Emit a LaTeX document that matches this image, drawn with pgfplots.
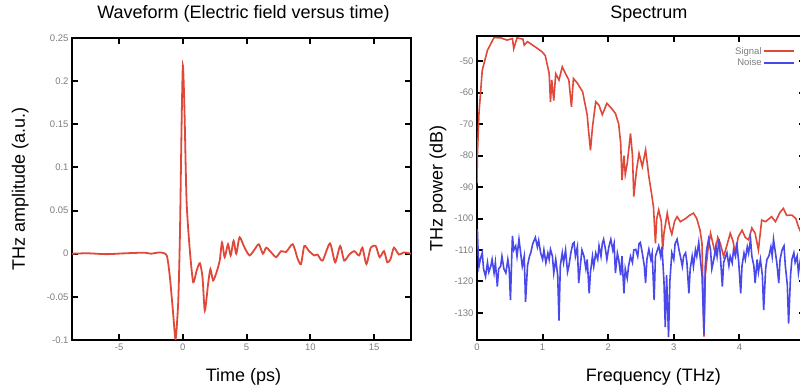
\documentclass[border=0pt]{standalone}
\usepackage{fontspec}
\setmainfont{Liberation Sans}
\usepackage{pgfplots}
\pgfplotsset{compat=1.18}
\definecolor{wred}{RGB}{224,72,58}
\definecolor{nblue}{RGB}{72,72,235}
\definecolor{tickgray}{RGB}{125,125,125}
\begin{document}
\begin{tikzpicture}[x=1bp,y=1bp]
\pgfplotsset{
  gp/.style={
    scale only axis,
    anchor=south west,
    axis line style={line width=2bp},
    major tick length=6bp,
    every tick/.style={black,line width=2bp},
    tick label style={font=\fontsize{9.5bp}{11bp}\selectfont, text=tickgray},
    /pgf/number format/assume math mode=true,
    label style={font=\fontsize{18bp}{20bp}\selectfont},
    title style={font=\fontsize{18bp}{20bp}\selectfont, anchor=center},
    clip=true,
  }
}
\begin{axis}[gp, at={(72bp,49bp)}, width=339bp, height=302bp,
  xmin=-8.7, xmax=17.9, ymin=-0.1, ymax=0.25,
  xtick={-5,0,5,10,15}, ytick={-0.1,-0.05,0,0.05,0.1,0.15,0.2,0.25},
  yticklabel style={/pgf/number format/.cd, fixed, precision=2},
  title={Waveform (Electric field versus time)},
  title style={at={(axis description cs:0.506,1.06)}},
  xlabel={Time (ps)}, ylabel={THz amplitude (a.u.)},
  xlabel style={at={(axis description cs:0.506,-0.1225)}, anchor=center},
  ylabel style={at={(axis description cs:-0.153,0.5)}, anchor=center},
]
\addplot[wred, line width=1.8bp, smooth, tension=0.4] coordinates {
(-8.7,0) (-7.5,0.0005) (-6,-0.0005) (-4.5,0.0005) (-3,0.0012) (-2.5,0) (-1.8,0.0015)
(-1.27,-0.002) (-1.02,-0.027) (-0.76,-0.070) (-0.57,-0.099) (-0.36,-0.054) (-0.23,0.023)
(-0.1,0.15) (0,0.218) (0.12,0.17) (0.29,0.061) (0.55,0.003) (0.81,-0.033) (1.07,-0.020)
(1.33,-0.011) (1.54,-0.027) (1.72,-0.066) (1.98,-0.035) (2.16,-0.018) (2.37,-0.031)
(2.63,-0.022) (2.89,-0.008) (3.07,0.013) (3.28,-0.004) (3.54,0.011) (3.75,-0.002)
(3.98,0.015) (4.19,0.0) (4.45,0.019) (4.84,0.007) (5.23,-0.002) (5.63,0.005) (5.96,0.011)
(6.28,0.0) (6.54,0.007) (6.93,0.0015) (7.32,-0.004) (7.71,0.003) (8.1,0.002) (8.62,0.011)
(9.01,-0.006) (9.27,-0.012) (9.53,0.009) (9.9,0.003) (10.31,-0.002) (10.57,-0.001)
(10.96,-0.008) (11.54,0.012) (11.95,-0.010) (12.34,0.009) (12.66,-0.008) (13.05,-0.001)
(13.44,0.003) (13.83,-0.002) (14.09,0.007) (14.4,-0.012) (14.74,0.007) (15.13,0.009)
(15.44,-0.004) (15.78,0.003) (16.04,-0.010) (16.3,-0.006) (16.56,0.007) (16.95,-0.001)
(17.34,0.0015) (17.9,0.0)
};
\end{axis}
\begin{axis}[gp, at={(477bp,49bp)}, width=328bp, height=304bp,
  xmin=0, xmax=5, ymin=-138.6, ymax=-42,
  xtick={0,1,2,3,4,5}, xticklabels={0,1,2,3,4,{}},
  ytick={-130,-120,-110,-100,-90,-80,-70,-60,-50},
  title={Spectrum},
  title style={at={(axis description cs:0.524,1.053)}},
  xlabel={Frequency (THz)}, ylabel={THz power (dB)},
  xlabel style={at={(axis description cs:0.538,-0.122)}, anchor=center},
  ylabel style={at={(axis description cs:-0.119,0.5)}, anchor=center},
  legend style={at={(axis description cs:0.969,0.967)}, anchor=north east,
    draw=none, fill=none, inner sep=0pt, row sep=1bp,
    nodes={inner sep=1bp},
    font=\fontsize{9.5bp}{11bp}\selectfont},
  legend cell align=right, legend plot pos=right,
  legend image code/.code={\draw[#1, line width=2bp] (0bp,0bp) -- (30bp,0bp);},
]
\addplot[color=wred, line width=1.6bp] coordinates {
(0,-88.8) (0.005,-80.4) (0.03,-66.6) (0.08,-52.9) (0.16,-46.5) (0.26,-42.5) (0.36,-42.6)
(0.46,-43.3) (0.54,-42.8) (0.56,-46) (0.61,-42.6) (0.7,-43) (0.72,-44.9) (0.77,-43.8)
(0.89,-45.5) (0.99,-47) (1.04,-48.2) (1.10,-53.9) (1.12,-63) (1.14,-56) (1.17,-62.5)
(1.20,-54) (1.25,-56) (1.30,-51.8) (1.35,-54) (1.40,-56) (1.44,-64.5) (1.47,-55.5)
(1.53,-57) (1.61,-59.7) (1.68,-67.1) (1.70,-72) (1.73,-78.3) (1.76,-71) (1.81,-62.9)
(1.86,-64) (1.91,-67) (1.98,-63.4) (2.05,-65) (2.11,-66.6) (2.16,-70) (2.19,-76)
(2.21,-87.8) (2.24,-80) (2.26,-86) (2.29,-82.5) (2.34,-73) (2.37,-80) (2.39,-93)
(2.43,-85) (2.47,-79.3) (2.52,-83.5) (2.57,-78.2) (2.62,-86.7) (2.66,-92) (2.69,-96.3)
(2.72,-107.9) (2.74,-100) (2.77,-97.3) (2.81,-101) (2.83,-110) (2.85,-104.7) (2.90,-98.3)
(2.94,-103) (2.97,-105) (3.01,-101) (3.05,-99.4) (3.1,-101) (3.18,-100) (3.24,-99)
(3.30,-98.3) (3.35,-100) (3.40,-103.7) (3.43,-108) (3.46,-137.5) (3.48,-118) (3.52,-110)
(3.56,-104.7) (3.63,-111) (3.67,-106) (3.71,-108) (3.76,-112) (3.81,-108.5) (3.86,-104.7)
(3.90,-107) (3.94,-111) (3.98,-106) (4.04,-103.7) (4.09,-106) (4.14,-106.8) (4.19,-103)
(4.24,-104.7) (4.29,-110) (4.34,-100.5) (4.40,-101) (4.49,-99.4) (4.55,-101) (4.62,-98)
(4.67,-96.8) (4.72,-99) (4.80,-98.9) (4.86,-100) (4.90,-102.6) (4.95,-105) (5.0,-104)
};
\addlegendentry{\textcolor{tickgray}{Signal}}
\addplot[color=nblue, line width=1.6bp] coordinates {
(0.005,-103.3) (0.02,-112) (0.03,-115.2) (0.05,-113) (0.08,-110.9) (0.10,-116) (0.13,-118.4)
(0.16,-114) (0.18,-117) (0.21,-115.2) (0.23,-113) (0.26,-117.3) (0.28,-114) (0.31,-121.6)
(0.33,-116) (0.36,-115.2) (0.38,-112) (0.41,-116) (0.44,-117.3) (0.47,-113) (0.49,-116)
(0.51,-125.9) (0.53,-112) (0.54,-105.5) (0.56,-110) (0.59,-108.7) (0.61,-112) (0.64,-106.6)
(0.66,-110) (0.69,-115.2) (0.72,-112) (0.74,-126.5) (0.77,-115) (0.80,-112) (0.82,-110.9)
(0.85,-108) (0.89,-106.0) (0.92,-109) (0.94,-107) (0.97,-110.9) (1.00,-113) (1.02,-110)
(1.05,-114.1) (1.08,-111) (1.10,-113) (1.12,-109.8) (1.15,-112) (1.17,-117.3) (1.20,-113)
(1.23,-118) (1.25,-132.4) (1.27,-115) (1.30,-110.9) (1.32,-114) (1.35,-110) (1.38,-117)
(1.40,-115.2) (1.43,-111) (1.46,-108) (1.48,-107.6) (1.50,-112) (1.53,-109) (1.55,-120.5)
(1.58,-114) (1.60,-110) (1.63,-111.9) (1.66,-116) (1.68,-113) (1.71,-123.8) (1.73,-117)
(1.76,-112) (1.78,-115.2) (1.81,-111) (1.84,-113) (1.86,-108.7) (1.89,-112) (1.91,-108)
(1.93,-106.6) (1.96,-110) (1.98,-113.0) (2.01,-109) (2.04,-106.6) (2.07,-110) (2.09,-108)
(2.11,-117.3) (2.14,-111) (2.16,-113.0) (2.19,-118) (2.21,-112) (2.24,-123.8) (2.26,-116)
(2.29,-119) (2.31,-115.2) (2.34,-112) (2.37,-114) (2.39,-110) (2.42,-109.8) (2.45,-112)
(2.47,-108) (2.49,-107.6) (2.52,-111) (2.55,-115) (2.57,-120.5) (2.59,-113) (2.62,-109.8)
(2.65,-113) (2.67,-111) (2.70,-125.9) (2.72,-112) (2.75,-110) (2.77,-108.7) (2.80,-112)
(2.82,-109) (2.85,-120) (2.87,-134.5) (2.89,-118) (2.92,-137.7) (2.94,-120) (2.97,-110.9)
(3.00,-113) (3.02,-108) (3.05,-106.6) (3.08,-110) (3.10,-112) (3.13,-115.2) (3.15,-112)
(3.18,-110.9) (3.20,-114) (3.23,-123.8) (3.25,-116) (3.28,-112) (3.30,-115.2) (3.33,-110)
(3.35,-112) (3.38,-107.6) (3.40,-112) (3.43,-118) (3.46,-136.7) (3.48,-115) (3.50,-110)
(3.53,-106.6) (3.56,-110) (3.58,-116) (3.61,-113.0) (3.64,-109) (3.66,-112) (3.69,-106.6)
(3.71,-112) (3.74,-121.6) (3.76,-114) (3.79,-112) (3.81,-110.9) (3.84,-115) (3.86,-112)
(3.89,-114.1) (3.91,-110) (3.94,-112) (3.96,-107.6) (3.99,-114) (4.02,-123.8) (4.04,-115)
(4.07,-111) (4.09,-113.0) (4.12,-109) (4.14,-111) (4.17,-106.6) (4.19,-112) (4.22,-115)
(4.24,-120.5) (4.27,-113) (4.29,-117) (4.32,-113.0) (4.35,-118) (4.37,-129.1) (4.40,-116)
(4.42,-113) (4.45,-111.9) (4.48,-109) (4.50,-112) (4.52,-106.6) (4.55,-111) (4.57,-114)
(4.60,-120.5) (4.62,-113) (4.65,-110) (4.68,-108.7) (4.70,-115) (4.73,-121) (4.75,-133.4)
(4.78,-118) (4.80,-113) (4.83,-110.9) (4.85,-114) (4.88,-112) (4.90,-117.3) (4.93,-113)
(4.96,-110) (5.0,-112)
};
\addlegendentry{\textcolor{tickgray}{Noise}}
\end{axis}
\pgfresetboundingbox
\path[use as bounding box] (0bp,0bp) rectangle (800bp,389bp);
\end{tikzpicture}
\end{document}
